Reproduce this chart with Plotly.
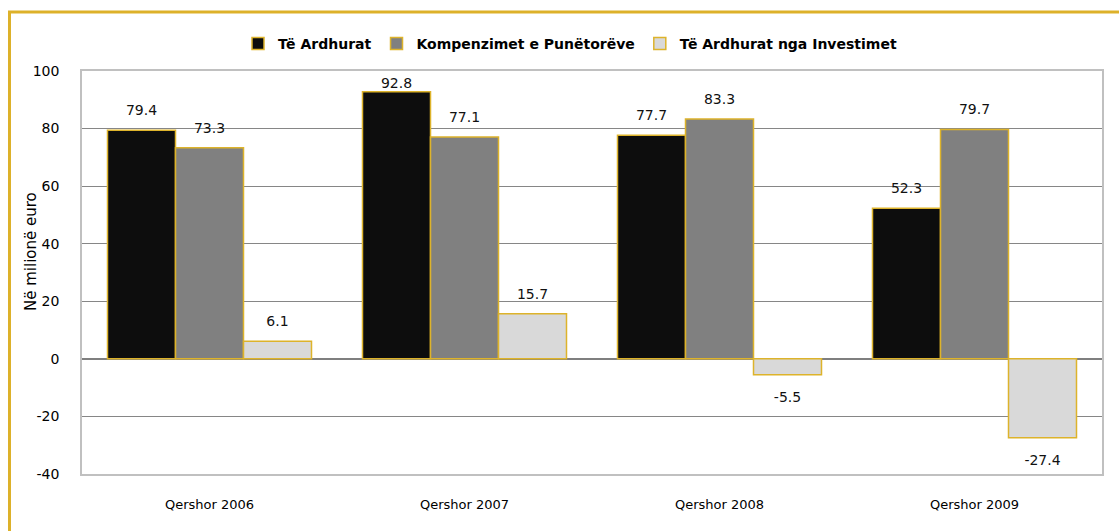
import plotly.graph_objects as go

# ---- data ----
categories = ["Qershor 2006", "Qershor 2007", "Qershor 2008", "Qershor 2009"]
te_ardhurat = [79.4, 92.8, 77.7, 52.3]
kompenzimet = [73.3, 77.1, 83.3, 79.7]
investimet = [6.1, 15.7, -5.5, -27.4]
series_names = ["Të Ardhurat", "Kompenzimet e Punëtorëve", "Të Ardhurat nga Investimet"]
y_ticks = [-40, -20, 0, 20, 40, 60, 80, 100]
y_title = "Në milionë euro"

# ---- style ----
W, H = 1119, 531
ML, MR, MT, MB = 82, 17, 71, 57
GOLD = "#DDB32B"
FRAME = "#DDB12A"
colors = ["#0D0D0D", "#808080", "#D9D9D9"]
FONT = "DejaVu Sans"
LBL_SIZE = 14
YMIN, YMAX = -40, 100
plot_h = H - MT - MB
ppu = plot_h / (YMAX - YMIN)


def px_x(p):
    return (p - ML) / (W - ML - MR)


def px_y(p):
    return (H - MB - p) / plot_h


def label_style(vals):
    """text position + invisible marker size so labels sit ~20px off the bar end,
    kept inside the plot area (like the original chart)."""
    pos, sizes = [], []
    for v in vals:
        if v >= 0:
            off = min(20.0, (YMAX - v) * ppu - 13)
            r = off - 0.61 * LBL_SIZE
            pos.append("top center")
        else:
            off = 22.0
            r = off - 0.39 * LBL_SIZE
            pos.append("bottom center")
        mr = max(0.0, (r - 1) * 0.8) if r > 1 else 0.0
        sizes.append(2 * mr)
    return pos, sizes


fig = go.Figure()
all_series = [te_ardhurat, kompenzimet, investimet]
for name, vals, col in zip(series_names, all_series, colors):
    fig.add_trace(go.Bar(
        name=name, x=categories, y=vals,
        marker=dict(color=col, line=dict(color=GOLD, width=1.5)),
        hoverinfo="x+y",
    ))
for name, vals in zip(series_names, all_series):
    pos, sizes = label_style(vals)
    fig.add_trace(go.Scatter(
        x=categories, y=vals, mode="markers+text",
        text=[f"{v:.1f}" for v in vals], textposition=pos,
        textfont=dict(family=FONT, size=LBL_SIZE, color="#111111"),
        marker=dict(size=sizes, color="rgba(0,0,0,0)", line=dict(width=0)),
        showlegend=False, hoverinfo="skip", cliponaxis=False,
    ))

fig.update_layout(
    width=W, height=H,
    margin=dict(l=ML, r=MR, t=MT, b=MB),
    paper_bgcolor="white", plot_bgcolor="white",
    barmode="group", bargap=0.2, bargroupgap=0,
    scattermode="group", scattergap=0.2,
    font=dict(family=FONT, color="#000000"),
    showlegend=True,
    legend=dict(
        orientation="h", x=px_x(570), xanchor="center", y=px_y(44), yanchor="middle",
        font=dict(family=FONT, size=14, color="#000000", weight="bold"),
        bgcolor="rgba(0,0,0,0)", traceorder="normal",
    ),
    xaxis=dict(
        type="category", showgrid=False, zeroline=False,
        showline=True, mirror=True, linecolor="#C0C0C0", linewidth=1.5,
        ticks="", tickfont=dict(family=FONT, size=13, color="#000000"),
        ticklabelstandoff=18,
    ),
    yaxis=dict(
        range=[YMIN, YMAX], tickvals=y_ticks, ticktext=[str(t) for t in y_ticks],
        showgrid=True, gridcolor="#868686", gridwidth=1,
        zeroline=True, zerolinecolor="#7F7F7F", zerolinewidth=2,
        showline=True, mirror=True, linecolor="#C0C0C0", linewidth=1.5,
        ticks="", tickfont=dict(family=FONT, size=14, color="#000000"),
        ticklabelstandoff=18,
    ),
    shapes=[dict(
        type="rect", xref="paper", yref="paper",
        x0=px_x(9.5), x1=px_x(1140), y0=px_y(12), y1=px_y(560),
        line=dict(color=FRAME, width=3), fillcolor="rgba(0,0,0,0)", layer="below",
    )],
    annotations=[dict(
        text=y_title, textangle=-90, xref="paper", yref="paper",
        x=px_x(31), y=px_y(252), xanchor="center", yanchor="middle",
        showarrow=False, font=dict(family=FONT, size=15, color="#000000"),
    )],
)

fig.write_html(
    "out.html",
    config={"displayModeBar": False},
    post_script="document.body.style.margin='0px';document.body.style.overflow='hidden';",
)
